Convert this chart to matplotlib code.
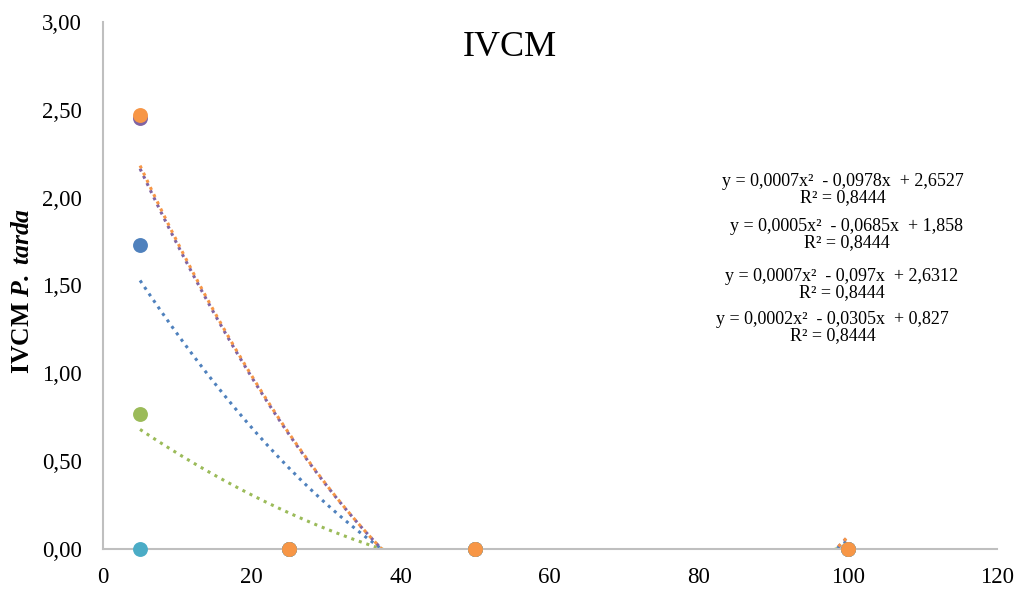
import matplotlib.pyplot as plt
import numpy as np
from matplotlib.ticker import FuncFormatter

plt.rcParams['font.family'] = ['Liberation Serif', 'DejaVu Serif']
plt.rcParams['mathtext.fontset'] = 'custom'
plt.rcParams['mathtext.rm'] = 'Liberation Serif'
plt.rcParams['mathtext.it'] = 'Liberation Serif:italic'
plt.rcParams['mathtext.bf'] = 'Liberation Serif:bold'
plt.rcParams['mathtext.bfit'] = 'Liberation Serif:italic:bold'

# concentrations on the x axis
doses = [5, 25, 50, 100]

# series values (one per colour)
blue_vals = [1.73, 0, 0, 0]
green_vals = [0.77, 0, 0, 0]
purple_vals = [2.45, 0, 0, 0]
teal_vals = [0, 0, 0, 0]
orange_vals = [2.47, 0, 0, 0]

series = [
    (blue_vals, '#4F81BD', True),
    (green_vals, '#9BBB59', True),
    (purple_vals, '#8064A2', True),
    (teal_vals, '#4BACC6', False),
    (orange_vals, '#F79646', True),
]

# trendline labels as printed on the chart (top to bottom)
eq_labels = [
    'y = 0,0007x²  - 0,0978x  + 2,6527\nR² = 0,8444',
    'y = 0,0005x²  - 0,0685x  + 1,858\nR² = 0,8444',
    'y = 0,0007x²  - 0,097x  + 2,6312\nR² = 0,8444',
    'y = 0,0002x²  - 0,0305x  + 0,827\nR² = 0,8444',
]
# where the labels sit (data coords)
eq_pos = [(99.3, 2.044), (99.9, 1.79), (99.2, 1.503), (98.0, 1.258)]

fig = plt.figure(figsize=(10.18, 5.89), dpi=100)
ax = fig.add_axes([0.101, 0.068, 0.878, 0.895])

xs = np.array(doses, dtype=float)
xfit = np.linspace(xs.min(), xs.max(), 400)
for vals, col, trend in series:
    ax.scatter(xs, vals, s=115, color=col, zorder=3, clip_on=False,
               linewidths=0)
    if trend:
        coef = np.polyfit(xs, vals, 2)
        ax.plot(xfit, np.polyval(coef, xfit), ls=(0, (1, 1.6)), lw=2.2,
                color=col, zorder=2)

for lab, (xp, yp) in zip(eq_labels, eq_pos):
    ax.text(xp, yp, lab, ha='center', va='center', fontsize=13,
            linespacing=0.95, multialignment='center')

ax.set_xlim(0, 120)
ax.set_ylim(0, 3)
ax.set_xticks(np.arange(0, 121, 20))
ax.set_yticks(np.arange(0, 3.01, 0.5))
ax.yaxis.set_major_formatter(FuncFormatter(lambda v, p: f'{v:.2f}'.replace('.', ',')))
ax.tick_params(length=0, labelsize=16.5, pad=15)
ax.tick_params(axis='x', pad=13)

for s in ['top', 'right']:
    ax.spines[s].set_visible(False)
for s in ['left', 'bottom']:
    ax.spines[s].set_color('#BFBFBF')
    ax.spines[s].set_linewidth(1.5)

ax.set_ylabel(r'IVCM $\mathbfit{P.}\;\mathbfit{tarda}$', fontsize=18.5,
              fontweight='bold')
ax.yaxis.set_label_coords(-0.077, 0.49)
fig.text(0.501, 0.920, 'IVCM', ha='center', va='center', fontsize=26)

fig.savefig('out.png', dpi=100)
